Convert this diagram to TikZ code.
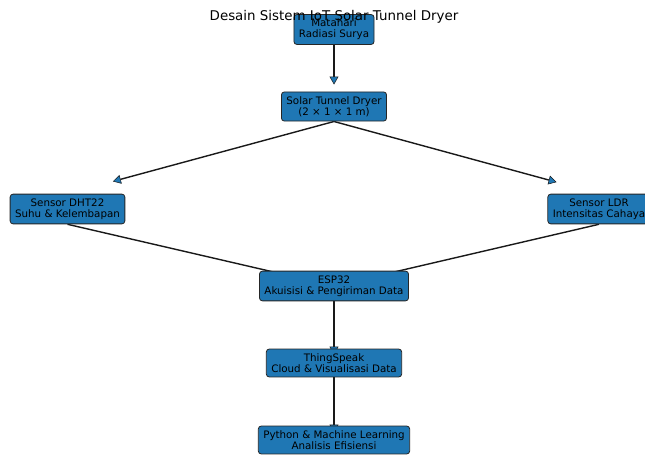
\documentclass[tikz,border=0pt]{standalone}
\usepackage{fontspec}
\setmainfont{DejaVu Sans}
\usepackage{xcolor}
\usetikzlibrary{arrows.meta, positioning}
\definecolor{boxblue}{HTML}{1F77B4}
\pgfdeclarelayer{background}
\pgfsetlayers{background,main}

\begin{document}
\begin{tikzpicture}[x=1pt,y=1pt]
\tikzset{
  bx/.style={rectangle,rounded corners=3pt,draw=black!85,line width=0.8pt,fill=boxblue,align=center,inner xsep=5pt,inner ysep=4.5pt,font=\fontsize{10.3}{11}\selectfont},
  ar/.style={-{Triangle[length=8pt,width=9pt,fill=boxblue,line width=0.5pt]},line width=1.4pt,draw=black!90},
  ttl/.style={font=\fontsize{13.4}{15}\selectfont,anchor=base}
}
\useasboundingbox (0,0) rectangle (645,456);
\node[bx] (sun) at (334,426.5) {Matahari\\Radiasi Surya};
\node[bx] (dryer) at (334,349.5) {Solar Tunnel Dryer\\(2 × 1 × 1 m)};
\node[bx] (dht) at (67.5,247) {Sensor DHT22\\Suhu \& Kelembapan};
\node[bx] (ldr) at (599,247) {Sensor LDR\\Intensitas Cahaya};
\node[bx] (esp) at (334,170) {ESP32\\Akuisisi \& Pengiriman Data};
\node[bx] (ts) at (334,93) {ThingSpeak\\Cloud \& Visualisasi Data};
\node[bx] (py) at (334,16) {Python \& Machine Learning\\Analisis Efisiensi};
% connectors behind the boxes
\begin{pgfonlayer}{background}
\draw[ar,shorten >=7pt] (sun.south) -- (dryer.north);
\draw[ar,shorten >=47pt] (dryer.south) -- (dht.north);
\draw[ar,shorten >=44pt] (dryer.south) -- (ldr.north);
\draw[ar,shorten >=12pt] (dht.south) -- (esp.center);
\draw[ar,shorten >=12pt] (ldr.south) -- (esp.center);
\draw[ar] (esp.south) -- ([yshift=-6pt]ts.north);
\draw[ar] (ts.south) -- ([yshift=-7pt]py.north);
\end{pgfonlayer}
% title
\node[ttl] (title) at (334,435) {Desain Sistem IoT Solar Tunnel Dryer};
\end{tikzpicture}
\end{document}
